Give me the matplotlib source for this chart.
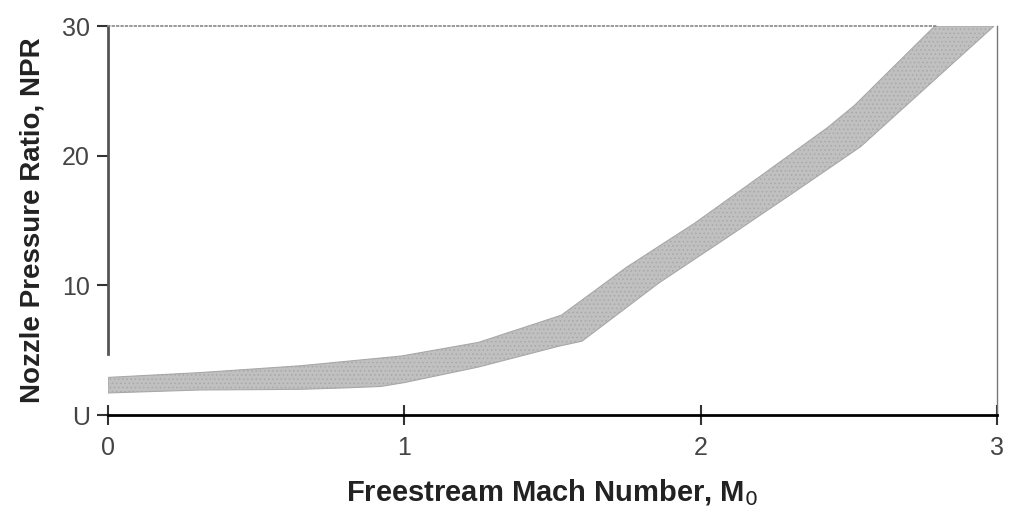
import matplotlib
matplotlib.use('Agg')
import matplotlib.pyplot as plt

plt.rcParams['font.family'] = ['Liberation Sans', 'DejaVu Sans']
plt.rcParams['hatch.color'] = '#8a8a8a'
plt.rcParams['hatch.linewidth'] = 0.6

# upper edge of the NPR band
mach_hi = [0.0, 0.31, 0.65, 0.99, 1.25, 1.53, 1.75, 1.98, 2.20, 2.43, 2.52, 2.79, 2.99]
npr_hi  = [2.9, 3.27, 3.8, 4.55, 5.6, 7.7, 11.4, 14.8, 18.4, 22.2, 23.9, 30.0, 30.0]
# lower edge of the NPR band
mach_lo = [0.0, 0.31, 0.65, 0.81, 0.92, 1.0, 1.25, 1.52, 1.60, 1.86, 2.09, 2.31, 2.54, 2.99]
npr_lo  = [1.7, 1.93, 1.98, 2.1, 2.2, 2.5, 3.7, 5.3, 5.7, 10.2, 13.7, 17.1, 20.7, 30.0]

xticks = [0, 1, 2, 3]
yticks = [0, 10, 20, 30]

fig = plt.figure(figsize=(10.1, 5.23), dpi=100)
ax = fig.add_axes([0.107, 0.2065, 0.88, 0.7435])

band_x = mach_hi + mach_lo[::-1]
band_y = npr_hi + npr_lo[::-1]
ax.fill(band_x, band_y, facecolor='#c0c0c0', edgecolor='#a8a8a8',
        hatch='....', linewidth=0.8)

ax.set_xlim(0, 3)
ax.set_ylim(0, 30)
ax.set_xticks(xticks)
ax.set_yticks(yticks)
ax.set_yticklabels(['U', '10', '20', '30'])

ax.spines['bottom'].set_color('black')
ax.spines['bottom'].set_linewidth(2)
ax.spines['left'].set_color('#555555')
ax.spines['left'].set_linewidth(2)
ax.spines['left'].set_bounds(4.7, 30)
ax.spines['top'].set_color('#888888')
ax.spines['top'].set_linestyle(':')
ax.spines['top'].set_linewidth(1.2)
ax.spines['top'].set_bounds(0, 2.8)
ax.spines['right'].set_color('#777777')
ax.spines['right'].set_linewidth(1)

ax.tick_params(axis='x', direction='inout', length=14, width=1.5, colors='#333333',
               labelsize=18, pad=8)
ax.tick_params(axis='y', direction='out', length=8, width=1.5, colors='#333333',
               labelsize=18, pad=5)
for lab in ax.get_xticklabels() + ax.get_yticklabels():
    lab.set_color('#444444')

ax.set_xlabel('Freestream Mach Number, M$_0$', fontsize=21, color='#222222',
              fontweight='bold', labelpad=13)
ax.set_ylabel('Nozzle Pressure Ratio, NPR', fontsize=20, color='#222222',
              fontweight='bold', labelpad=12)

fig.savefig('out.png', dpi=100)
